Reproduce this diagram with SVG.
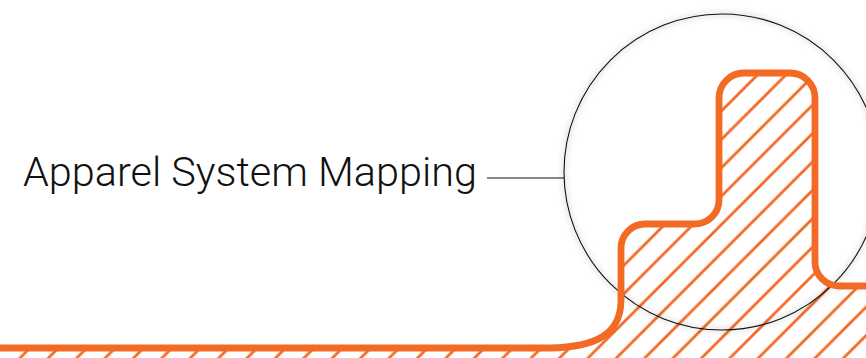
<svg xmlns="http://www.w3.org/2000/svg" width="866" height="358" viewBox="0 0 866 358">
  <style>
    .label { font-family: Roboto, "Liberation Sans", sans-serif; font-weight: 300; font-size: 41px; fill: #111; }
    .conn { stroke: #111; stroke-width: 1.1; fill: none; }
    .outline { stroke: #F26A23; stroke-width: 6.8; fill: none; stroke-linejoin: round; }
    .hatch { stroke: #F26A23; stroke-width: 2.8; }
  </style>
  <defs>
    <pattern id="hatch" patternUnits="userSpaceOnUse" x="8.8" y="0" width="28.4" height="28.4">
      <line class="hatch" x1="-2" y1="30.4" x2="30.4" y2="-2"/>
      <line class="hatch" x1="-2" y1="2" x2="2" y2="-2"/>
      <line class="hatch" x1="26.4" y1="30.4" x2="30.4" y2="26.4"/>
    </pattern>
    <filter id="shadow" x="-20%" y="-20%" width="140%" height="140%">
      <feGaussianBlur stdDeviation="3"/>
    </filter>
  </defs>
  <rect width="866" height="358" fill="#fff"/>
  <g id="shape-fill">
    <path fill="url(#hatch)" d="M -5 348 L 550 348 C 595 347 621 335 621 300 L 621 248 A 24 24 0 0 1 645 224 L 695 224 A 24 24 0 0 0 719 200 L 719 98 A 25 25 0 0 1 744 73 L 790 73 A 25 25 0 0 1 815 98 L 815 262 A 24 24 0 0 0 839 286 L 871 286 L 871 365 L -5 365 Z"/>
  </g>
  <g id="magnifier">
    <circle cx="722" cy="172" r="158" fill="none" stroke="#000" stroke-opacity="0.25" stroke-width="2" filter="url(#shadow)"/>
    <circle cx="722" cy="172" r="158" fill="none" stroke="#111" stroke-width="1.1"/>
  </g>
  <g id="shape-outline">
    <path class="outline" d="M -5 348 L 550 348 C 595 347 621 335 621 300 L 621 248 A 24 24 0 0 1 645 224 L 695 224 A 24 24 0 0 0 719 200 L 719 98 A 25 25 0 0 1 744 73 L 790 73 A 25 25 0 0 1 815 98 L 815 262 A 24 24 0 0 0 839 286 L 871 286"/>
  </g>
  <g id="connectors">
    <line class="conn" x1="487" y1="178" x2="564" y2="178"/>
  </g>
  <g id="label">
    <text class="label" x="23" y="186" textLength="454" lengthAdjust="spacingAndGlyphs">Apparel System Mapping</text>
  </g>
</svg>
